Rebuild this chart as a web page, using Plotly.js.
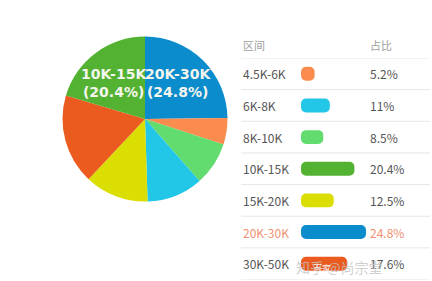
<!DOCTYPE html>
<html>
<head>
<meta charset="utf-8">
<script src="https://cdn.plot.ly/plotly-3.0.1.min.js"></script>
<style>html,body{margin:0;padding:0;background:#fff}#chart{width:432px;height:281px}</style>
</head>
<body>
<div id="chart"></div>
<script>
// Data (legend order)
var categories = ["4.5K-6K", "6K-8K", "8K-10K", "10K-15K", "15K-20K", "20K-30K", "30K-50K"];
var shares = [5.2, 11, 8.5, 20.4, 12.5, 24.8, 17.6];
var shareLabels = ["5.2%", "11%", "8.5%", "20.4%", "12.5%", "24.8%", "17.6%"];
var colors = ["#fa8c50", "#22c6e6", "#62dc6e", "#54b233", "#dade02", "#0b8ccd", "#eb5a1e"];
// Pie slice order, clockwise from 12 o'clock
var pieOrder = [5, 0, 2, 1, 4, 6, 3];
// Slices that carry a label on the pie
var labelled = ["10K-15K", "20K-30K"];
var highlight = "20K-30K";
var headers = ["区间", "占比"];
var watermark = "知乎 @尚宗堂";

var pieLabels = pieOrder.map(function (i) { return categories[i]; });
var pieValues = pieOrder.map(function (i) { return shares[i]; });
var pieColors = pieOrder.map(function (i) { return colors[i]; });
var rows = categories.map(function (c, i) { return i; });
var negShares = shares.map(function (s) { return -s; });

var pie = {
  type: "pie",
  labels: pieLabels,
  values: pieValues,
  sort: false,
  direction: "clockwise",
  rotation: 0,
  marker: { colors: pieColors, line: { width: 0 } },
  textinfo: "none",
  hoverinfo: "skip",
  showlegend: false,
  domain: { x: [0.1447, 0.5266], y: [0.2829, 0.8701] }
};

// Legend bars: drawn from each bar's end back to zero
var bars = {
  type: "bar", orientation: "h",
  x: negShares, base: shares, y: rows,
  xaxis: "x2", yaxis: "y2", width: 0.44,
  marker: { color: colors, cornerradius: 5, line: { width: 0 } },
  hoverinfo: "skip", showlegend: false
};

var annotations = [];
var shapes = [];
var labelFont = "Noto Sans CJK SC, Noto Sans, sans-serif";
categories.forEach(function (c, i) {
  var col = c === highlight ? "#f09070" : "#555555";
  annotations.push({ xref: "paper", yref: "y2", x: 0.558, y: i, xanchor: "left", yanchor: "middle",
    text: c, showarrow: false, font: { family: labelFont, size: 12, color: col } });
  annotations.push({ xref: "paper", yref: "y2", x: 0.852, y: i, xanchor: "left", yanchor: "middle",
    text: shareLabels[i], showarrow: false, font: { family: labelFont, size: 12, color: col } });
});
for (var k = -1; k < categories.length; k++) {
  shapes.push({ type: "line", xref: "paper", yref: "y2", x0: 0.558, x1: 0.995, y0: k + 0.5, y1: k + 0.5,
    line: { color: "#e6e6e6", width: 1 } });
}
annotations.push({ xref: "paper", yref: "paper", x: 0.558, y: 0.84, xanchor: "left", yanchor: "middle",
  text: headers[0], showarrow: false, font: { family: labelFont, size: 11, color: "#a0a0a0" } });
annotations.push({ xref: "paper", yref: "paper", x: 0.852, y: 0.84, xanchor: "left", yanchor: "middle",
  text: headers[1], showarrow: false, font: { family: labelFont, size: 11, color: "#a0a0a0" } });

// Pie labels for the two largest slices
var labelPos = { "10K-15K": [0.264, 0.705], "20K-30K": [0.413, 0.705] };
labelled.forEach(function (c) {
  var i = categories.indexOf(c);
  annotations.push({ xref: "paper", yref: "paper", x: labelPos[c][0], y: labelPos[c][1],
    xanchor: "center", yanchor: "middle", showarrow: false, align: "center",
    text: "<b>" + c + "<br>(" + shareLabels[i] + ")</b>",
    font: { family: "DejaVu Sans, sans-serif", size: 14, color: "#f4f6ee" } });
});

// Watermarks
annotations.push({ xref: "paper", yref: "paper", x: 0.785, y: 0.05, xanchor: "center", yanchor: "middle",
  text: watermark, showarrow: false, font: { family: labelFont, size: 14, color: "rgba(195,195,195,0.8)" } });
annotations.push({ xref: "paper", yref: "paper", x: 0.745, y: 0.045, xanchor: "center", yanchor: "middle",
  text: "百家", showarrow: false, font: { family: labelFont, size: 9, color: "rgba(255,255,255,0.9)" } });

var layout = {
  width: 432, height: 281,
  margin: { l: 0, r: 0, t: 0, b: 0 },
  paper_bgcolor: "#ffffff", plot_bgcolor: "rgba(0,0,0,0)",
  barmode: "overlay",
  xaxis2: { domain: [0.6968, 0.8787], range: [0, 30], showgrid: false, zeroline: false, showticklabels: false, showline: false, fixedrange: true },
  yaxis2: { domain: [0.0053, 0.7936], range: [6.5, -0.5], showgrid: false, zeroline: false, showticklabels: false, showline: false, anchor: "x2", fixedrange: true },
  annotations: annotations,
  shapes: shapes,
  showlegend: false
};

Plotly.newPlot("chart", [pie, bars], layout, { displayModeBar: false, staticPlot: true });
</script>
</body>
</html>
